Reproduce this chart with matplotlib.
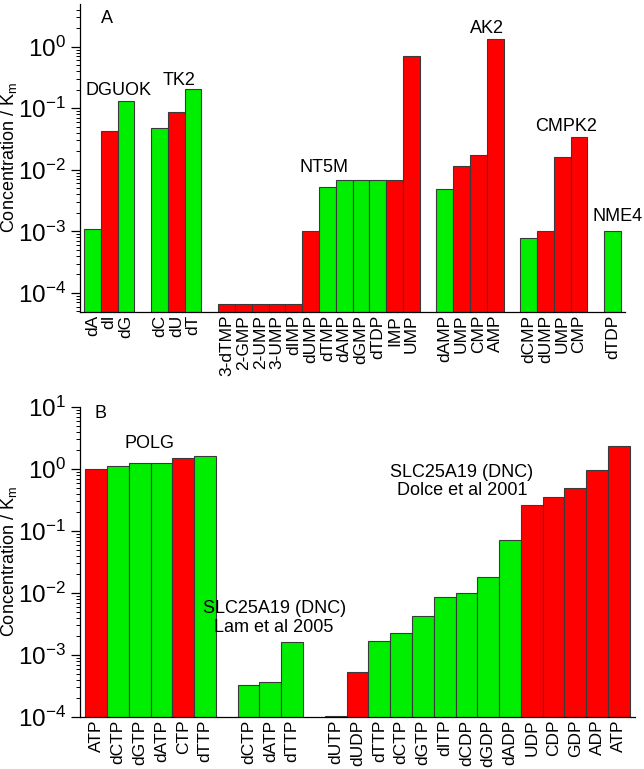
import numpy as np
import matplotlib.pyplot as plt
from matplotlib.ticker import LogLocator, NullFormatter

plt.rcParams['font.family'] = ['Liberation Sans', 'DejaVu Sans']
plt.rcParams['mathtext.fontset'] = 'custom'
plt.rcParams['mathtext.rm'] = 'Liberation Sans'
plt.rcParams['mathtext.it'] = 'Liberation Sans'
plt.rcParams['mathtext.default'] = 'regular'

# panel A: enzyme groups, substrate labels, concentration/Km, colour code (R/G)
groupsA = ['DGUOK', 'TK2', 'NT5M', 'AK2', 'CMPK2', 'NME4']
labelsA = [['dA', 'dI', 'dG'],
           ['dC', 'dU', 'dT'],
           ['3-dTMP', '2-GMP', '2-UMP', '3-UMP', 'dIMP', 'dUMP', 'dTMP',
            'dAMP', 'dGMP', 'dTDP', 'IMP', 'UMP'],
           ['dAMP', 'UMP', 'CMP', 'AMP'],
           ['dCMP', 'dUMP', 'UMP', 'CMP'],
           ['dTDP']]
valuesA = [[1.09e-3, 0.043, 0.129],
           [0.047, 0.086, 0.205],
           [6.7e-5, 6.7e-5, 6.7e-5, 6.7e-5, 6.7e-5, 1.0e-3, 5.2e-3,
            6.8e-3, 6.8e-3, 6.8e-3, 6.8e-3, 0.70],
           [4.9e-3, 0.0114, 0.0173, 1.32],
           [7.7e-4, 1.0e-3, 0.0163, 0.0336],
           [1.0e-3]]
kindA = [['G', 'R', 'G'],
         ['G', 'R', 'G'],
         ['R', 'R', 'R', 'R', 'R', 'R', 'G', 'G', 'G', 'G', 'R', 'R'],
         ['G', 'R', 'R', 'R'],
         ['G', 'R', 'R', 'R'],
         ['G']]

# panel B
groupsB = ['POLG', 'SLC25A19 (DNC)\nLam et al 2005', 'SLC25A19 (DNC)\nDolce et al 2001']
labelsB = [['ATP', 'dCTP', 'dGTP', 'dATP', 'CTP', 'dTTP'],
           ['dCTP', 'dATP', 'dTTP'],
           ['dUTP', 'dUDP', 'dTTP', 'dCTP', 'dGTP', 'dITP', 'dCDP', 'dGDP',
            'dADP', 'UDP', 'CDP', 'GDP', 'ADP', 'ATP']]
valuesB = [[1.0, 1.105, 1.24, 1.25, 1.51, 1.60],
           [3.3e-4, 3.7e-4, 1.64e-3],
           [1.03e-4, 5.4e-4, 1.66e-3, 2.3e-3, 4.3e-3, 8.5e-3, 0.0101, 0.018,
            0.071, 0.26, 0.35, 0.50, 0.96, 2.33]]
kindB = [['R', 'G', 'G', 'G', 'R', 'G'],
         ['G', 'G', 'G'],
         ['R', 'R', 'G', 'G', 'G', 'G', 'G', 'G', 'G', 'R', 'R', 'R', 'R', 'R']]

colors = {'R': '#ff0000', 'G': '#00ee00'}


def flatten(labels, values, kinds):
    # one empty slot between groups
    xs, labs, vals, cols = [], [], [], []
    pos = 0
    for lab, val, kd in zip(labels, values, kinds):
        for l, v, k in zip(lab, val, kd):
            xs.append(pos)
            labs.append(l)
            vals.append(v)
            cols.append(colors[k])
            pos += 1
        pos += 1
    return np.array(xs), labs, vals, cols


def draw(ax, labels, values, kinds, ylim):
    xs, labs, vals, cols = flatten(labels, values, kinds)
    ax.bar(xs, vals, width=1.0, color=cols, edgecolor='#3a3a3a', linewidth=0.8)
    ax.set_yscale('log')
    ax.set_ylim(ylim)
    ax.set_xlim(-0.74, xs[-1] + 0.74)
    ax.set_xticks(xs)
    ax.set_xticklabels(labs, rotation=90, fontsize=12.5)
    ax.tick_params(axis='x', length=0, pad=2)
    ax.yaxis.set_major_locator(LogLocator(base=10, numticks=20))
    ax.yaxis.set_minor_locator(LogLocator(base=10, subs=np.arange(2, 10), numticks=20))
    ax.yaxis.set_minor_formatter(NullFormatter())
    ax.tick_params(axis='y', which='major', length=6.5, width=0.9, labelsize=17.5, pad=3.5)
    ax.tick_params(axis='y', which='minor', length=3, width=0.7)
    for s in ['top', 'right']:
        ax.spines[s].set_visible(False)
    for s in ['left', 'bottom']:
        ax.spines[s].set_linewidth(0.9)


fig = plt.figure(figsize=(6.44, 7.69), dpi=100)
axA = fig.add_axes([80 / 644, 1 - 312 / 769, 545 / 644, 308 / 769])
axB = fig.add_axes([80 / 644, 1 - 717 / 769, 555 / 644, 310 / 769])

draw(axA, labelsA, valuesA, kindA, (4.9e-5, 4.95))
draw(axB, labelsB, valuesB, kindB, (1e-4, 10))

fs = 13
axA.text(0.87, 2.92, 'A', fontsize=fs, ha='center', va='center')
axA.text(1.53, 0.198, groupsA[0], fontsize=fs, ha='center', va='center')
axA.text(5.16, 0.288, groupsA[1], fontsize=fs, ha='center', va='center')
axA.text(13.8, 0.0108, groupsA[2], fontsize=fs, ha='center', va='center')
axA.text(23.5, 2.0, groupsA[3], fontsize=fs, ha='center', va='center')
axA.text(28.2, 0.0514, groupsA[4], fontsize=fs, ha='center', va='center')
axA.text(31.3, 1.73e-3, groupsA[5], fontsize=fs, ha='center', va='center', clip_on=False)

axB.text(0.19, 7.8, 'B', fontsize=fs, ha='center', va='center')
axB.text(2.44, 2.54, groupsB[0], fontsize=fs, ha='center', va='center')
axB.text(8.17, 3.94e-3, groupsB[1], fontsize=fs, ha='center', va='center',
         multialignment='center', linespacing=1.1)
axB.text(16.8, 0.628, groupsB[2], fontsize=fs, ha='center', va='center',
         multialignment='center', linespacing=1.1)

fig.text(9 / 644, 1 - 158 / 769, 'Concentration / K$_m$', rotation=90,
         ha='center', va='center', fontsize=13)
fig.text(9 / 644, 1 - 562 / 769, 'Concentration / K$_m$', rotation=90,
         ha='center', va='center', fontsize=13)

fig.savefig('out.png', dpi=100)
